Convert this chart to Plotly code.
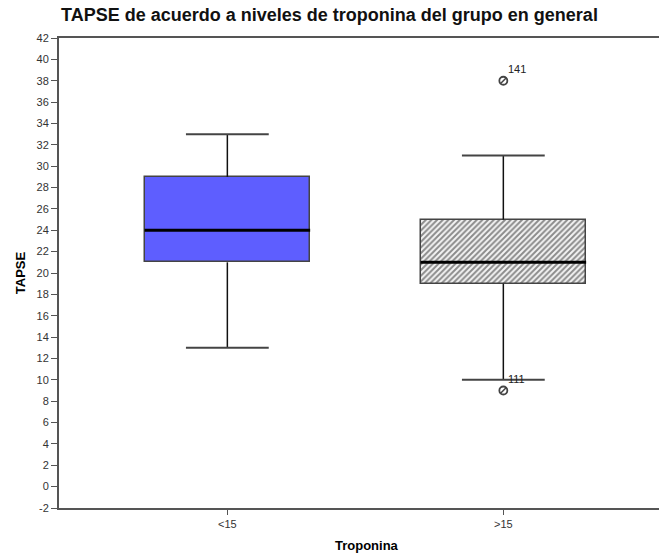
import plotly.graph_objects as go

# ---- data ----
categories = ["<15", ">15"]
q1 = [21, 19]
median = [24, 21]
q3 = [29, 25]
lower_whisker = [13, 10]
upper_whisker = [33, 31]
outlier_cat = [1, 1]
outlier_val = [38, 9]
outlier_label = ["141", "111"]
y_ticks = list(range(-2, 43, 2))

BOX_W = 0.6
CAP_HW = 0.15
pos = list(range(len(categories)))
FONT = "Liberation Sans, Arial"

fig = go.Figure()

# boxes (bars from q1 to q3)
fig.add_trace(go.Bar(
    x=[pos[0]], y=[q3[0] - q1[0]], base=[q1[0]], width=BOX_W,
    marker=dict(color="#5e5eff", line=dict(color="#444444", width=1.5)),
    showlegend=False, hoverinfo="skip"))
fig.add_trace(go.Bar(
    x=[pos[1]], y=[q3[1] - q1[1]], base=[q1[1]], width=BOX_W,
    marker=dict(color="#f2f2f2", line=dict(color="#444444", width=1.5),
                pattern=dict(shape="/", fgcolor="#222222", bgcolor="#f4f4f4",
                             size=4, solidity=0.5)),
    showlegend=False, hoverinfo="skip"))

# whiskers
wx, wy = [], []
for p, a, b, lo, hi in zip(pos, q1, q3, lower_whisker, upper_whisker):
    wx += [p, p, None, p, p, None]
    wy += [b, hi, None, a, lo, None]
fig.add_trace(go.Scatter(x=wx, y=wy, mode="lines",
                         line=dict(color="#111111", width=1.5),
                         showlegend=False, hoverinfo="skip"))

# caps
cx, cy = [], []
for p, lo, hi in zip(pos, lower_whisker, upper_whisker):
    cx += [p - CAP_HW, p + CAP_HW, None, p - CAP_HW, p + CAP_HW, None]
    cy += [hi, hi, None, lo, lo, None]
fig.add_trace(go.Scatter(x=cx, y=cy, mode="lines",
                         line=dict(color="#444444", width=2),
                         showlegend=False, hoverinfo="skip"))

# medians
mx, my = [], []
for p, m in zip(pos, median):
    mx += [p - BOX_W / 2, p + BOX_W / 2, None]
    my += [m, m, None]
fig.add_trace(go.Scatter(x=mx, y=my, mode="lines",
                         line=dict(color="#000000", width=3),
                         showlegend=False, hoverinfo="skip"))

# outliers
fig.add_trace(go.Scatter(x=outlier_cat, y=outlier_val, mode="markers",
                         marker=dict(symbol="circle-open", size=8, color="#444444",
                                     line=dict(color="#444444", width=1.8)),
                         showlegend=False, hoverinfo="skip"))
fig.add_trace(go.Scatter(x=outlier_cat, y=outlier_val, mode="markers",
                         marker=dict(symbol="line-ne", size=6, color="#444444",
                                     line=dict(color="#444444", width=1.5)),
                         showlegend=False, hoverinfo="skip"))
for c, v, t in zip(outlier_cat, outlier_val, outlier_label):
    fig.add_annotation(x=c, y=v, text=t, showarrow=False,
                       xanchor="left", yanchor="bottom", xshift=3, yshift=4,
                       font=dict(family=FONT, size=11, color="#222222"))

fig.add_annotation(x=(366.7 - 59) / 600, y=0, xref="paper", yref="paper",
                   yanchor="top", yshift=-28, text="<b>Troponina</b>", showarrow=False,
                   font=dict(family=FONT, size=13, color="#000000"))

fig.update_layout(
    width=659, height=556,
    margin=dict(l=59, r=0, t=38, b=48),
    plot_bgcolor="white", paper_bgcolor="white",
    font=dict(family=FONT, size=11, color="#333333"),
    title=dict(text="<b>TAPSE de acuerdo a niveles de troponina del grupo en general</b>",
               x=0.5, xref="container", xanchor="center",
               y=1 - 15 / 556, yref="container", yanchor="middle",
               font=dict(family=FONT, size=18, color="#111111")),
    bargap=0,
    xaxis=dict(range=[-0.61, 1.564], tickvals=pos, ticktext=categories,
               showline=True, mirror=True, linecolor="#555555", linewidth=2,
               ticks="outside", ticklen=5, tickcolor="#555555",
               showgrid=False, zeroline=False,
               tickfont=dict(size=11, color="#333333")),
    yaxis=dict(range=[-2, 42], tickvals=y_ticks, ticktext=[str(v) for v in y_ticks],
               showline=True, linecolor="#555555", linewidth=2,
               ticks="outside", ticklen=6, tickcolor="#555555",
               showgrid=False, zeroline=False,
               tickfont=dict(size=11, color="#333333"),
               title=dict(text="<b>TAPSE</b>", standoff=8,
                          font=dict(family=FONT, size=13, color="#000000"))),
)

fig.write_html("out.html")
